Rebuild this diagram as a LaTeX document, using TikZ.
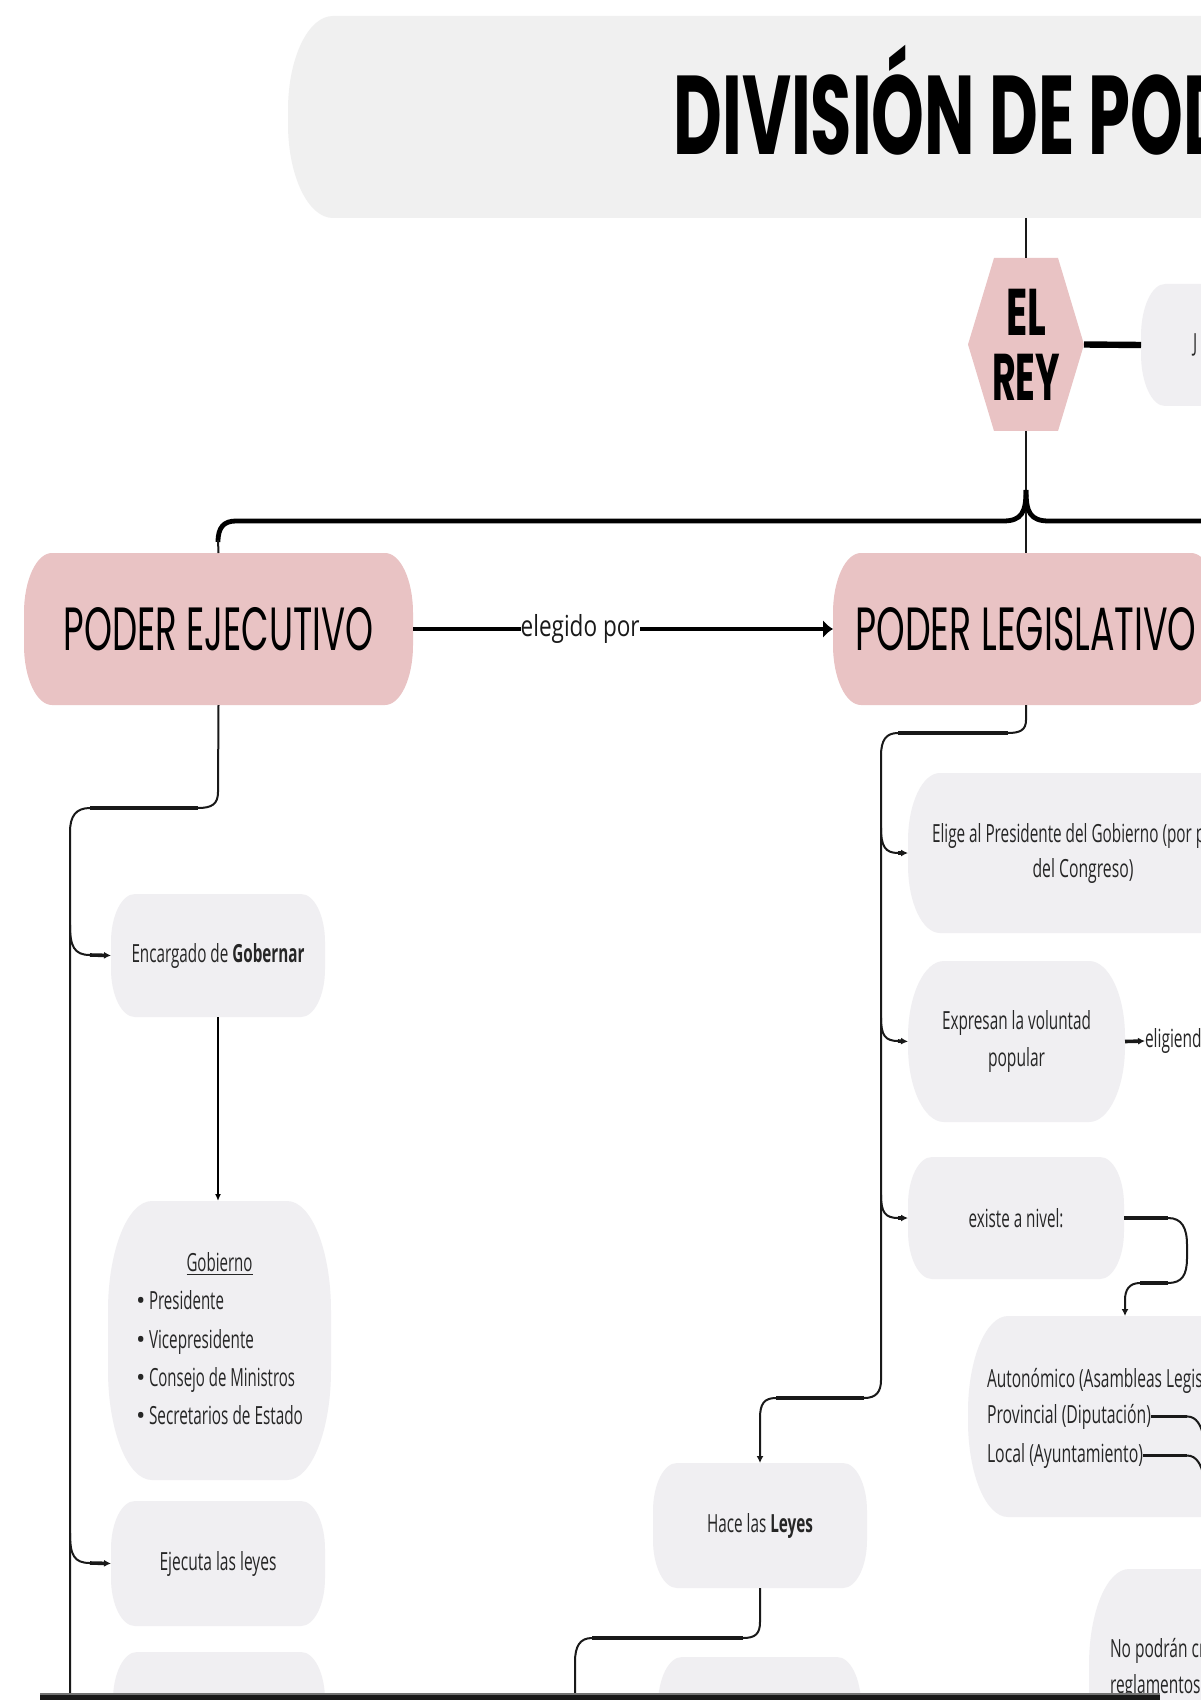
\documentclass[tikz,border=0pt]{standalone}
\usepackage{fontspec}
\usepackage{graphicx}
\setmainfont{Open Sans}
\newfontfamily\popp{Poppins}
\usetikzlibrary{arrows.meta,backgrounds,calc}
\definecolor{pinkb}{HTML}{E9C3C4}
\definecolor{grayb}{HTML}{F0EFF2}
\definecolor{titleb}{HTML}{F0F0F0}
\definecolor{txt}{HTML}{262626}
\newcommand\ft[2]{\resizebox{#1}{\height}{#2}}
\newcommand\sq[1]{\scalebox{0.62}[1]{#1}}
\newcommand\rbox[4]{\fill[#2] ([xshift=#3]#1.north west) -- ([xshift=-#3]#1.north east)
  arc[start angle=90,end angle=0,x radius=#3,y radius=#4] -- ([yshift=#4]#1.south east)
  arc[start angle=0,end angle=-90,x radius=#3,y radius=#4] -- ([xshift=#3]#1.south west)
  arc[start angle=270,end angle=180,x radius=#3,y radius=#4] -- ([yshift=-#4]#1.north west)
  arc[start angle=180,end angle=90,x radius=#3,y radius=#4] -- cycle;}
\tikzset{
  box/.style={inner sep=0pt, outer sep=0pt, align=center, text=txt, font=\fontsize{12.5}{19}\selectfont},
  powbox/.style={box, minimum height=76pt, text=black, font=\popp\fontsize{30.5}{36}\selectfont},
  txtl/.style={anchor=base west, inner sep=0pt, outer sep=0pt, text=txt, font=\fontsize{12.5}{19}\selectfont},
  conn/.style={line width=1pt, draw=black!90},
  hconn/.style={line width=1.8pt, draw=black!90},
  bconn/.style={line width=2.4pt, draw=black},
  tip/.style={-{Latex[length=3.5pt,width=3.5pt]}}
}
\begin{document}
\begin{tikzpicture}[x=0.5pt,y=-0.5pt]
\useasboundingbox (0,0) rectangle (1200,1700);

% ---------- nodes ----------
\node[box, anchor=north west, minimum width=501pt, minimum height=101pt] (titlebox) at (288,16) {};
\node[anchor=base west, inner sep=0pt, text=black, font=\popp\bfseries\fontsize{56}{60}\selectfont] (title) at (673,155) {\ft{279.5pt}{DIVISIÓN DE POD}};
\node[box, minimum width=58pt, minimum height=86.5pt, text=black, font=\popp\bfseries\fontsize{33}{32.5}\selectfont] (rey) at (1026,344.5) {\ft{20pt}{EL}\\\ft{34pt}{REY}};
\node[box, anchor=north west, minimum width=79.5pt, minimum height=61pt] (jbox) at (1141,284) {};
\node[txtl] (jt) at (1193,352) {\sq{J}};

\node[powbox, minimum width=194.5pt] (exe) at (218.5,629) {\ft{155pt}{PODER EJECUTIVO}};
\node[powbox, minimum width=193pt] (leg) at (1026,629) {\ft{170.5pt}{PODER LEGISLATIVO}};

\node[box, minimum width=107pt, minimum height=61.5pt] (enc) at (218,955.5) {\ft{86.5pt}{Encargado de \textbf{Gobernar}}};
\node[box, minimum width=111.5pt, minimum height=139.5pt, font=\fontsize{12.5}{19.2}\selectfont] (gob) at (219.5,1340.5) {%
\begin{tabular}{@{}l@{}}
\multicolumn{1}{@{}c@{}}{\ft{33pt}{\underline{Gobierno}}}\\
\makebox[6.5pt][l]{\textbullet}\ft{37.5pt}{Presidente}\\
\makebox[6.5pt][l]{\textbullet}\ft{52.5pt}{Vicepresidente}\\
\makebox[6.5pt][l]{\textbullet}\ft{73pt}{Consejo de Ministros}\\
\makebox[6.5pt][l]{\textbullet}\ft{77pt}{Secretarios de Estado}
\end{tabular}};
\node[box, minimum width=107pt, minimum height=62.5pt] (eje) at (218,1563.5) {\ft{58.5pt}{Ejecuta las leyes}};
\node[box, anchor=north west, minimum width=106pt, minimum height=70pt] (bl) at (113,1652) {};

\node[box, minimum width=175pt, minimum height=80pt, font=\fontsize{12.5}{17.5}\selectfont] (eli) at (1083,853) {\ft{151pt}{Elige al Presidente del Gobierno (por p\phantom{arte}}\\\ft{50.5pt}{del Congreso)}};
\node[box, minimum width=108.5pt, minimum height=80.5pt, font=\fontsize{12.5}{18.5}\selectfont] (exp) at (1016.5,1041.5) {\ft{74.5pt}{Expresan la voluntad}\\\ft{28.5pt}{popular}};
\node[anchor=west, inner sep=0pt, outer sep=0pt, text=txt, font=\fontsize{12.5}{19}\selectfont] (elig) at (1145,1041) {\sq{eligiendo}};
\node[box, minimum width=108pt, minimum height=61pt] (exi) at (1016,1218) {\ft{47.5pt}{existe a nivel:}};

\node[box, anchor=north west, minimum width=181pt, minimum height=100.5pt] (aut) at (968,1316) {};
\node[txtl] (aut1) at (987,1387) {\sq{Autonómico (Asambleas Legis}};
\node[txtl] (prov) at (987,1423) {\ft{82pt}{Provincial (Diputación)}};
\node[txtl] (loc) at (987,1462) {\ft{78pt}{Local (Ayuntamiento)}};

\node[box, anchor=north west, minimum width=120pt, minimum height=120pt] (nop) at (1089,1569) {};
\node[txtl] (nop1) at (1110,1657) {\sq{No podrán cr}};
\node[txtl] (nop2) at (1110,1693) {\sq{reglamentos}};

\node[box, minimum width=107pt, minimum height=62.5pt] (hac) at (760,1525.5) {\ft{53pt}{Hace las \textbf{Leyes}}};
\node[box, anchor=north west, minimum width=101.5pt, minimum height=70pt] (bm) at (658,1657) {};

% ---------- shapes (background) ----------
\begin{scope}[on background layer]
\fill[white] (0,0) rectangle (1200,1700);
\rbox{titlebox}{titleb}{22.5pt}{47pt}
\fill[pinkb] (rey.west) -- ([xshift=13pt]rey.north west) -- ([xshift=-13pt]rey.north east) -- (rey.east)
  -- ([xshift=-13pt]rey.south east) -- ([xshift=13pt]rey.south west) -- cycle;
\rbox{jbox}{grayb}{12pt}{26pt}
\rbox{exe}{pinkb}{14pt}{30pt}
\rbox{leg}{pinkb}{14pt}{30pt}
\rbox{enc}{grayb}{12pt}{24pt}
\rbox{gob}{grayb}{22pt}{55pt}
\rbox{eje}{grayb}{12pt}{24pt}
\rbox{bl}{grayb}{12pt}{24pt}
\rbox{eli}{grayb}{16pt}{34pt}
\rbox{exp}{grayb}{18pt}{38pt}
\rbox{exi}{grayb}{12pt}{24pt}
\rbox{aut}{grayb}{20pt}{48pt}
\rbox{nop}{grayb}{20pt}{48pt}
\rbox{hac}{grayb}{12pt}{24pt}
\rbox{bm}{grayb}{12pt}{24pt}
\end{scope}

% ---------- connectors ----------
\draw[conn] (titlebox.south -| rey.north) -- (rey.north);
\draw[conn] (rey.south) -- (leg.north);
\coordinate (bp) at (1026,490);
\draw[bconn] (bp) .. controls (1026,512) and (1022,521) .. (1003,521) -- (236,521)
  .. controls (224,521) and (218,527) .. (218,542);
\draw[conn] (218,540) -- (exe.north);
\draw[bconn] (bp) .. controls (1026,512) and (1030,521) .. (1049,521) -- (1215,521);
\draw[line width=3.2pt] (rey.east) -- (jbox.west);
\draw[bconn, -{Latex[length=5pt,width=9pt]}] (exe.east) -- node[pos=0.398, fill=white, inner sep=0pt, text=black!90, font=\fontsize{14.5}{17}\selectfont] (eleg) {\ft{59.5pt}{elegido por}} (leg.west);

% ejecutivo trunk
\draw[conn] (exe.south) -- (218,792) .. controls (218,804) and (212,808) .. (198,808) -- (90,808)
  .. controls (76,808) and (70,816) .. (70,832) -- (70,1710);
\draw[hconn] (198,808) -- (90,808);
\draw[conn] (70,925) .. controls (70,946) and (74,955) .. (90,955);
\draw[hconn, tip] (90,955) -- (enc.west);
\draw[conn] (70,1533) .. controls (70,1555) and (74,1563) .. (90,1563);
\draw[hconn, tip] (90,1563) -- (eje.west);
\draw[line width=0.7pt, -{Latex[length=3.5pt,width=3pt]}] (enc.south) -- (enc.south |- gob.north);

% legislativo trunk
\draw[conn, tip] (leg.south) -- (1026,720) .. controls (1026,730) and (1020,733) .. (1008,733) -- (898,733)
  .. controls (886,733) and (881,740) .. (881,756) -- (881,1380)
  .. controls (881,1392) and (876,1398) .. (864,1398) -- (776,1398)
  .. controls (764,1398) and (760,1404) .. (760,1418) -- (hac.north);
\draw[hconn] (1008,733) -- (898,733);
\draw[hconn] (864,1398) -- (776,1398);
\draw[conn] (881,828) .. controls (881,846) and (885,853) .. (898,853);
\draw[hconn, tip] (898,853) -- (eli.west);
\draw[conn] (881,1018) .. controls (881,1035) and (885,1041) .. (898,1041);
\draw[hconn, tip] (898,1041) -- (exp.west);
\draw[conn] (881,1195) .. controls (881,1212) and (885,1218) .. (898,1218);
\draw[hconn, tip] (898,1218) -- (exi.west);

\draw[hconn, tip] (exp.east) -- (elig.west);

\draw[hconn] (exi.east) -- (1168,1218);
\draw[conn] (1168,1218) .. controls (1182,1218) and (1187,1228) .. (1187,1245) -- (1187,1258)
  .. controls (1187,1275) and (1182,1283) .. (1168,1283);
\draw[hconn] (1168,1283) -- (1140,1283);
\draw[conn, tip] (1140,1283) .. controls (1129,1283) and (1125,1290) .. (1125,1300) -- ([xshift=78.5pt]aut.north west);

\draw[hconn] (prov.east) -- ++(18pt,0) coordinate (p1);
\draw[conn] (p1) .. controls +(10,0) and +(-2,-8) .. ++(16,18);
\draw[hconn] (loc.east) -- ++(22pt,0) coordinate (l1);
\draw[conn] (l1) .. controls +(10,0) and +(-2,-8) .. ++(16,18);

% hace las leyes downward
\draw[conn] (hac.south) -- (760,1622) .. controls (760,1634) and (755,1638) .. (743,1638) -- (592,1638)
  .. controls (580,1638) and (575,1646) .. (575,1662) -- (575,1710);
\draw[hconn] (743,1638) -- (592,1638);

% bottom bar of the capture
\fill[black!55] (40,1693) rectangle (1160,1695);
\fill[black!90] (40,1695) rectangle (1160,1700);
\end{tikzpicture}
\end{document}
